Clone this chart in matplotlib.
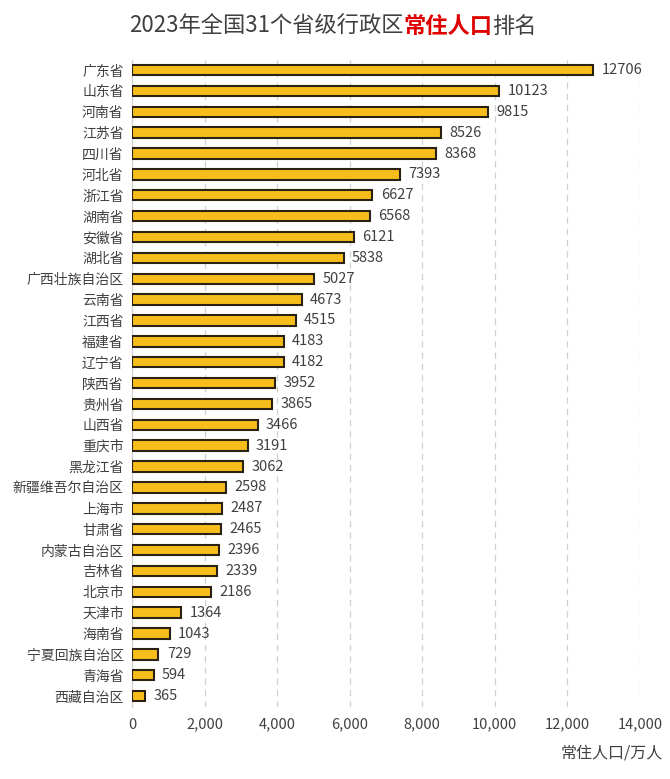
import matplotlib
matplotlib.use("Agg")
from matplotlib import pyplot as plt
from matplotlib.ticker import FuncFormatter

plt.rcParams['font.family'] = ['Noto Sans CJK SC', 'DejaVu Sans']

provinces = ["广东省", "山东省", "河南省", "江苏省", "四川省", "河北省", "浙江省", "湖南省",
             "安徽省", "湖北省", "广西壮族自治区", "云南省", "江西省", "福建省", "辽宁省",
             "陕西省", "贵州省", "山西省", "重庆市", "黑龙江省", "新疆维吾尔自治区", "上海市",
             "甘肃省", "内蒙古自治区", "吉林省", "北京市", "天津市", "海南省", "宁夏回族自治区",
             "青海省", "西藏自治区"]
population = [12706, 10123, 9815, 8526, 8368, 7393, 6627, 6568, 6121, 5838, 5027, 4673,
              4515, 4183, 4182, 3952, 3865, 3466, 3191, 3062, 2598, 2487, 2465, 2396,
              2339, 2186, 1364, 1043, 729, 594, 365]
xticks = [0, 2000, 4000, 6000, 8000, 10000, 12000, 14000]

text_c = "#404040"
fig = plt.figure(figsize=(6.7, 7.79), dpi=100)
ax = fig.add_axes([0.197, 0.093, 0.758, 0.8305])

ypos = list(range(len(provinces)))
ax.barh(ypos, population, height=0.5, color="#F7BE1B", edgecolor="#2B2113", linewidth=1.5, zorder=3)
for y, v in zip(ypos, population):
    ax.text(v + 230, y, str(v), va="center", ha="left", fontsize=10.5, color=text_c)

ax.set_yticks(ypos)
ax.set_yticklabels(provinces, fontsize=10, color=text_c)
ax.set_ylim(len(provinces) - 0.5, -0.5)
ax.set_xlim(0, 14000)
ax.set_xticks(xticks)
ax.xaxis.set_major_formatter(FuncFormatter(lambda v, p: f"{int(v):,}"))
ax.tick_params(axis="x", length=0, labelsize=10.5, labelcolor=text_c, pad=8)
ax.tick_params(axis="y", length=0, pad=6)
ax.grid(axis="x", color="#D0D0D0", linestyle=(0, (5, 4)), linewidth=0.9, zorder=0)
for s in ["top", "right", "bottom"]:
    ax.spines[s].set_visible(False)
ax.spines["left"].set_color("#D0D0D0")

fig.text(0.99, 0.033, "常住人口/万人", ha="right", va="center", fontsize=11.5, color=text_c)

# title in three pieces, middle part red and bold
parts = [("2023年全国31个省级行政区", text_c, "normal"),
         ("常住人口", "#E00000", "bold"),
         ("排名", text_c, "normal")]
fig.canvas.draw()
r = fig.canvas.get_renderer()
objs = []
for s, c, w in parts:
    t = fig.text(0, 0.966, s, ha="left", va="center", fontsize=16, color=c, fontweight=w)
    objs.append(t)
widths = [t.get_window_extent(r).width for t in objs]
total = sum(widths)
x = 333 - total / 2
for t, w in zip(objs, widths):
    t.set_x(x / 670)
    x += w

fig.savefig("out.png", dpi=100)
